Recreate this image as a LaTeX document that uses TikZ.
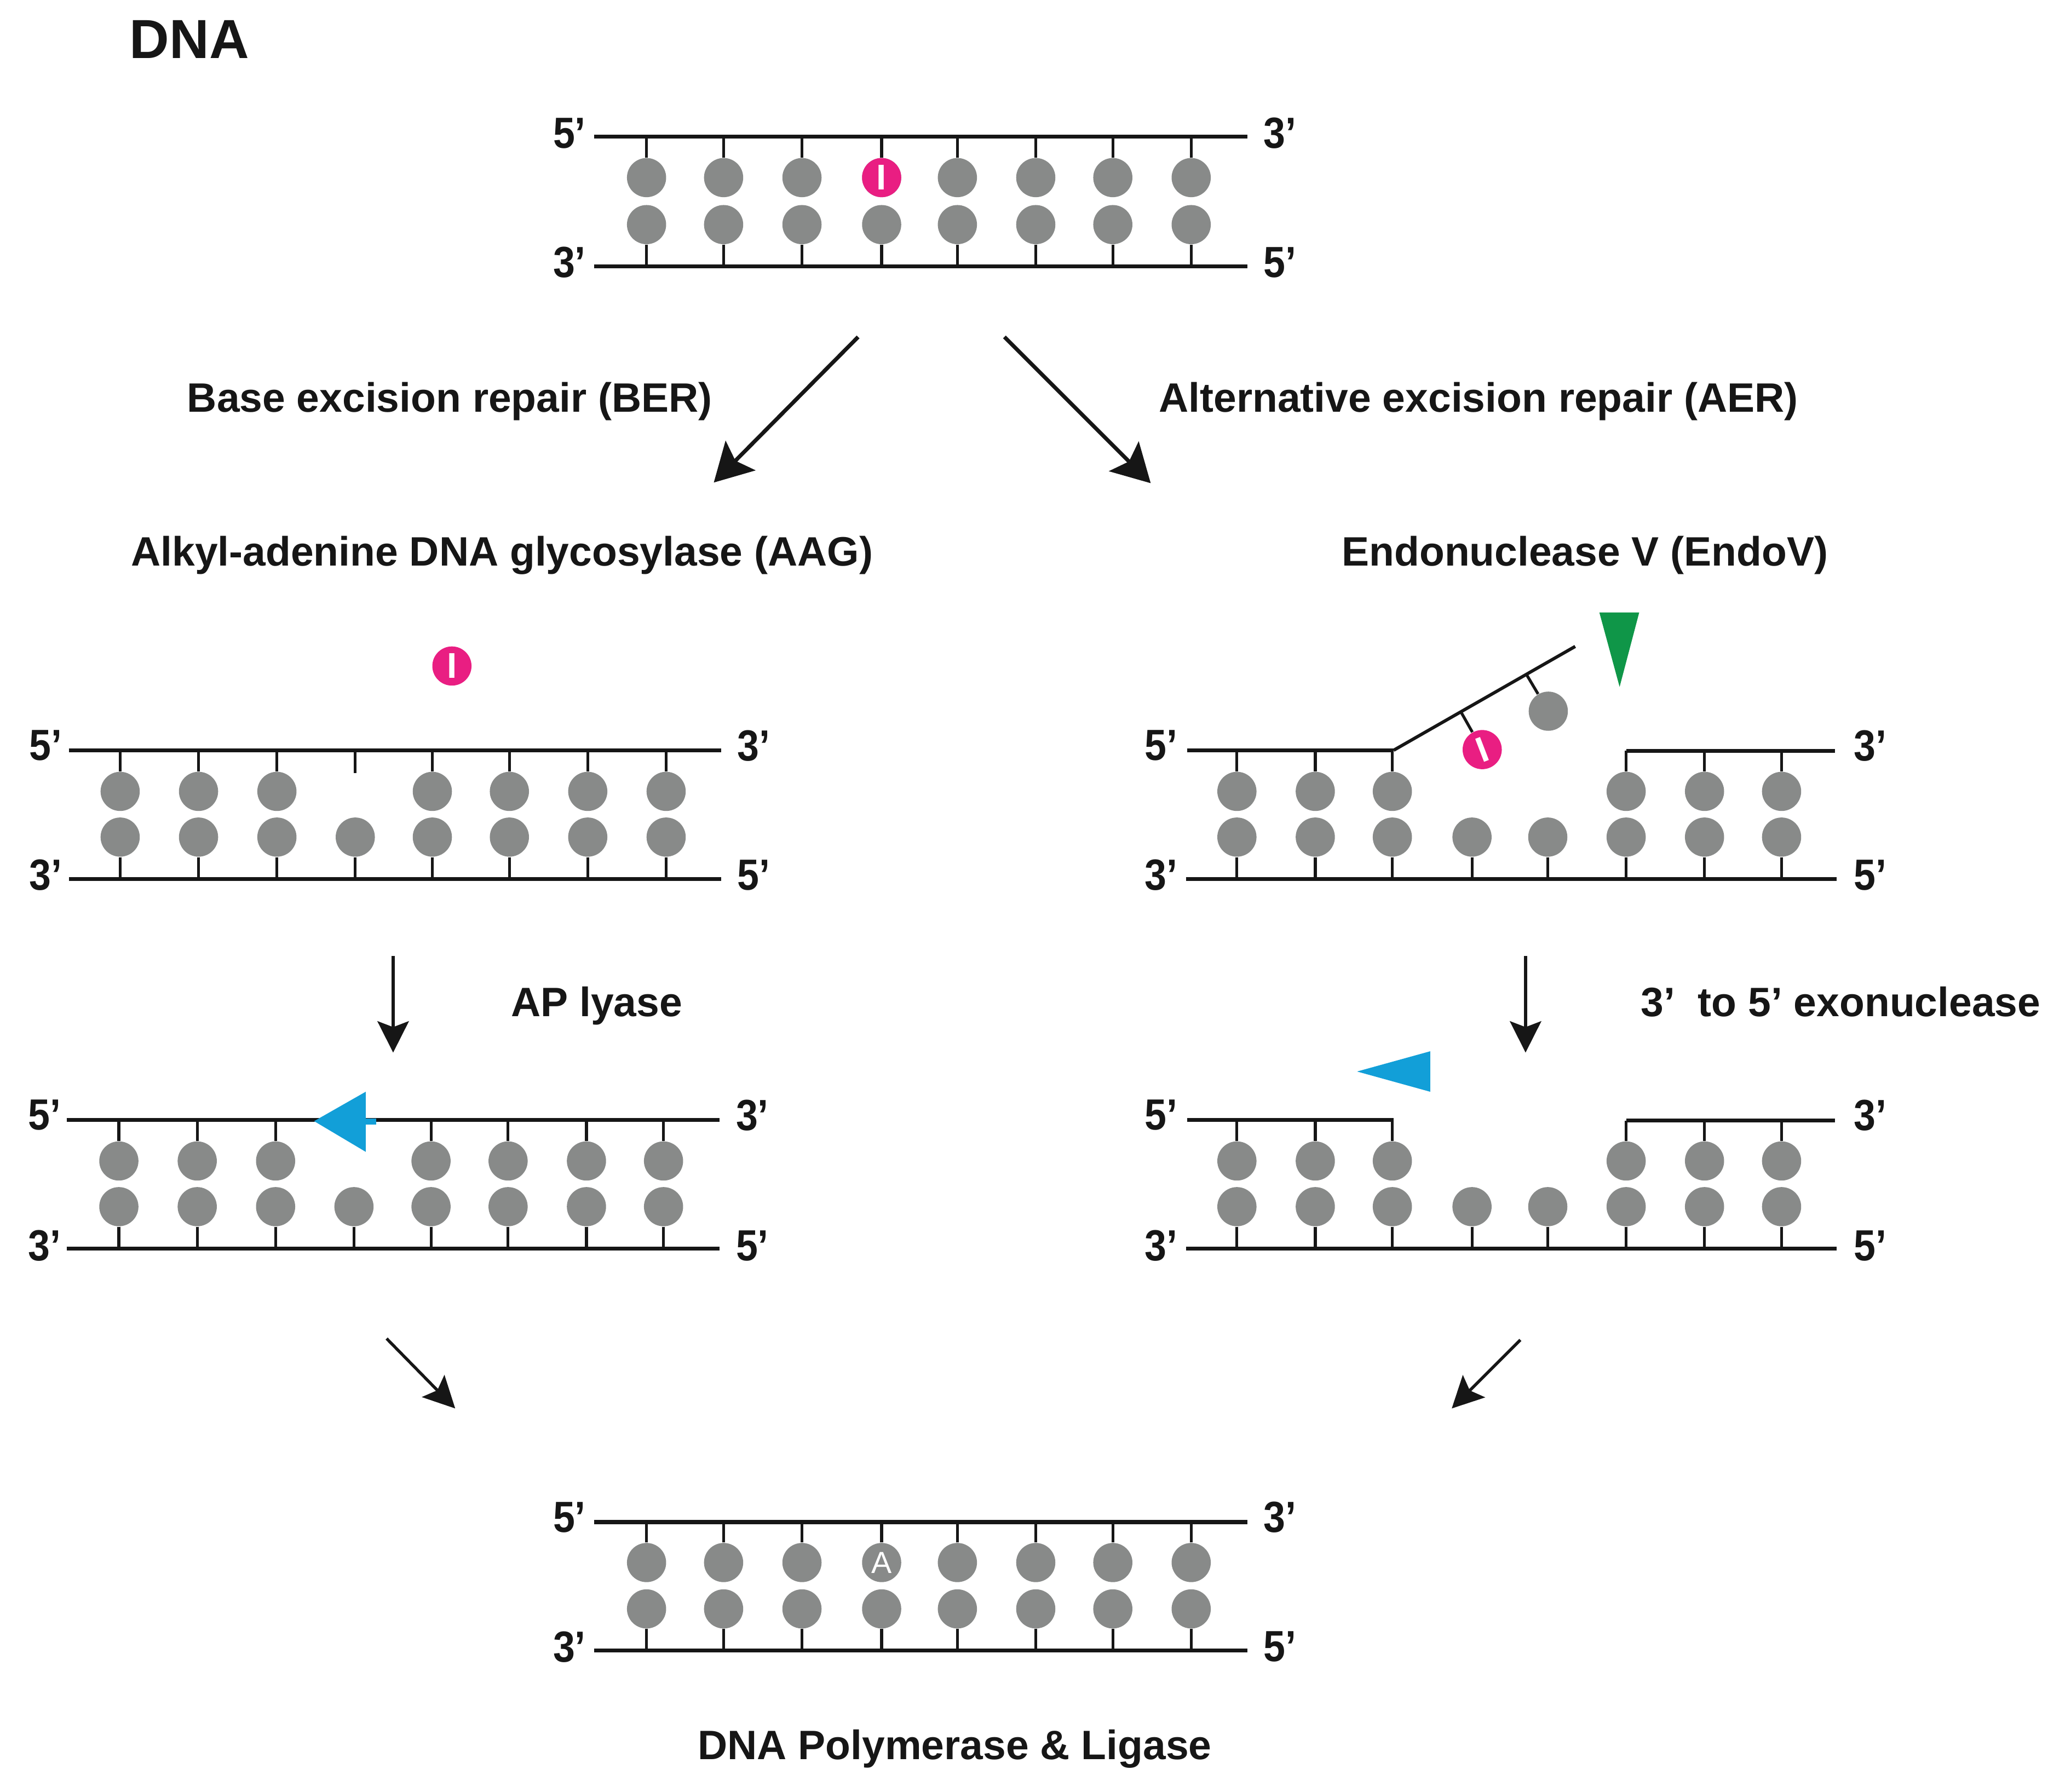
\documentclass[tikz,border=0pt]{standalone}
\usepackage{fontspec}
\setmainfont{Liberation Sans}
\newfontfamily\endfont[FakeStretch=0.9]{Liberation Sans}
\usetikzlibrary{arrows.meta}
\definecolor{basegray}{HTML}{888A89}
\definecolor{inosine}{HTML}{E91E82}
\definecolor{lyaseblue}{HTML}{129FD8}
\definecolor{endogreen}{HTML}{0F9648}
\definecolor{ink}{HTML}{161616}

\begin{document}
\begin{tikzpicture}[
    x=0.02cm,y=-0.02cm,
    base/.style={
      circle,
      fill=basegray,
      inner sep=0pt,
      minimum size=0.6cm
    },
    lesion/.style={
      base,
      fill=inosine,
      text=white,
      font=\fontsize{15.6}{16}\selectfont\bfseries
    },
    strand/.style={
      draw=ink,
      line width=1.7pt
    },
    stem/.style={
      draw=ink,
      line width=1.25pt
    },
    endlabel/.style={
      text=ink,
      font=\endfont\fontsize{19}{20}\selectfont\bfseries
    },
    title/.style={
      anchor=west,
      inner sep=0pt,
      text=ink,
      text depth=0pt,
      font=\fontsize{17.9}{18}\selectfont\bfseries
    },
    bigstep/.style={
      draw=ink,
      line width=1.7pt,
      -{Stealth[length=0.58cm,width=0.64cm,inset=0.11cm]}
    },
    smallstep/.style={
      draw=ink,
      line width=1.3pt,
      -{Stealth[length=0.48cm,width=0.48cm,inset=0.09cm]}
    }
    ]
    \useasboundingbox (0,0) rectangle (1568,1372.2);

    \node[title,font=\fontsize{24}{25}\selectfont\bfseries] (dna) at (99,30) {DNA};

    % damaged duplex
    \coordinate (a5) at (455,104.5);
    \coordinate (a3) at (955,104.5);
    \coordinate (a3b) at (455,204);
    \coordinate (a5b) at (955,204);
    \draw[strand] (a5) -- (a3);
    \draw[strand] (a3b) -- (a5b);
    \foreach \x [count=\i] in {495,554,614,675,733,793,852,912} {
      \node[base] (au\i) at (\x,136) {};
      \node[base] (al\i) at (\x,172) {};
      \draw[stem] (au\i) -- (au\i|-a5);
      \draw[stem] (al\i) -- (al\i|-a3b);
    }
    \node[lesion] (ai) at (au4) {I};
    \node[endlabel] (al1t) at (436,102) {5’};
    \node[endlabel] (al2t) at (980,102) {3’};
    \node[endlabel] (al3t) at (436,201) {3’};
    \node[endlabel] (al4t) at (980,201) {5’};

    % pathways
    \coordinate (ber0) at (657,258);
    \coordinate (ber1) at (546.5,369.5);
    \coordinate (aer0) at (769,258);
    \coordinate (aer1) at (881,370);
    \draw[bigstep] (ber0) -- (ber1);
    \draw[bigstep] (aer0) -- (aer1);
    \node[title] (bername) at (143,304) {Base excision repair (BER)};
    \node[title] (aername) at (887,304) {Alternative excision repair (AER)};
    \node[title] (aag) at (100,422) {Alkyl-adenine DNA glycosylase (AAG)};
    \node[title] (endov) at (1027,422) {Endonuclease V (EndoV)};

    % AAG cut
    \node[lesion] (bi) at (346,510) {I};
    \coordinate (b5) at (53,574.5);
    \coordinate (b3) at (552,574.5);
    \coordinate (b3b) at (53,673);
    \coordinate (b5b) at (552,673);
    \draw[strand] (b5) -- (b3);
    \draw[strand] (b3b) -- (b5b);
    \foreach \x [count=\i] in {92,152,212,272,331,390,450,510} {
      \node[base] (bl\i) at (\x,641) {};
      \draw[stem] (bl\i) -- (bl\i|-b3b);
    }
    \foreach \x [count=\i] in {92,152,212,331,390,450,510} {
      \node[base] (bu\i) at (\x,606) {};
      \draw[stem] (bu\i) -- (bu\i|-b5);
    }
    \coordinate (bgap) at (272,592);
    \draw[stem] (bgap) -- (bgap|-b5);
    \node[endlabel] (bl1t) at (35,571) {5’};
    \node[endlabel] (bl2t) at (577,571) {3’};
    \node[endlabel] (bl3t) at (35,670) {3’};
    \node[endlabel] (bl4t) at (577,670) {5’};

    % AP lyase
    \coordinate (ap0) at (301,732);
    \coordinate (ap1) at (301,806);
    \draw[smallstep] (ap0) -- (ap1);
    \node[title] (apname) at (391,767) {AP lyase};
    \coordinate (c5) at (51,857.5);
    \coordinate (c3) at (551,857.5);
    \coordinate (c3b) at (51,956);
    \coordinate (c5b) at (551,956);
    \draw[strand] (c5) -- (c3);
    \draw[strand] (c3b) -- (c5b);
    \foreach \x [count=\i] in {91,151,211,271,330,389,449,508} {
      \node[base] (cl\i) at (\x,924) {};
      \draw[stem] (cl\i) -- (cl\i|-c3b);
    }
    \foreach \x [count=\i] in {91,151,211,330,389,449,508} {
      \node[base] (cu\i) at (\x,889) {};
      \draw[stem] (cu\i) -- (cu\i|-c5);
    }
    \fill[lyaseblue] (240.5,858.5) -- (280,836) -- (280,882) -- cycle;
    \fill[lyaseblue] (279,856.5) rectangle (288,861);
    \node[endlabel] (cl1t) at (34,854) {5’};
    \node[endlabel] (cl2t) at (576,854) {3’};
    \node[endlabel] (cl3t) at (34,954) {3’};
    \node[endlabel] (cl4t) at (576,954) {5’};

    % EndoV cut
    \coordinate (d5) at (909,574.5);
    \coordinate (dk) at (1067,574.5);
    \coordinate (dflap) at (1206,495);
    \coordinate (dr) at (1245,575);
    \coordinate (d3) at (1405,575);
    \coordinate (d3b) at (908,673);
    \coordinate (d5b) at (1406,673);
    \draw[strand] (d5) -- (dk);
    \draw[strand,line width=1.4pt] (dk) -- (dflap);
    \draw[strand] (dr) -- (d3);
    \draw[strand] (d3b) -- (d5b);
    \foreach \x [count=\i] in {947,1007,1066,1127,1185,1245,1305,1364} {
      \node[base] (dl\i) at (\x,641) {};
      \draw[stem] (dl\i) -- (dl\i|-d3b);
    }
    \foreach \x [count=\i] in {947,1007,1066} {
      \node[base] (du\i) at (\x,606) {};
      \draw[stem] (du\i) -- (du\i|-d5);
    }
    \foreach \x [count=\i] in {1245,1305,1364} {
      \node[base] (dv\i) at (\x,606) {};
      \draw[stem] (dv\i) -- (dv\i|-d3);
    }
    \coordinate (dfi) at (1119,546);
    \coordinate (dfg) at (1169,517);
    \node[lesion,rotate=21] (di) at (1134.8,574) {I};
    \node[base] (dg) at (1185.4,544.6) {};
    \draw[stem] (dfi) -- (di);
    \draw[stem] (dfg) -- (dg);
    \fill[endogreen] (1224.5,469) -- (1255,469) -- (1240,526) -- cycle;
    \node[endlabel] (dl1t) at (889,571) {5’};
    \node[endlabel] (dl2t) at (1432,571) {3’};
    \node[endlabel] (dl3t) at (889,670) {3’};
    \node[endlabel] (dl4t) at (1432,670) {5’};

    % exonuclease
    \coordinate (ex0) at (1168,732);
    \coordinate (ex1) at (1168,806);
    \draw[smallstep] (ex0) -- (ex1);
    \node[title] (exname) at (1256,767) {3’\ \ to 5’ exonuclease};
    \fill[lyaseblue] (1039,820.5) -- (1095,805) -- (1095,836) -- cycle;
    \coordinate (e5) at (909,857.5);
    \coordinate (ek) at (1067,857.5);
    \coordinate (er) at (1245,858);
    \coordinate (e3) at (1405,858);
    \coordinate (e3b) at (908,956);
    \coordinate (e5b) at (1406,956);
    \draw[strand] (e5) -- (ek);
    \draw[strand] (er) -- (e3);
    \draw[strand] (e3b) -- (e5b);
    \foreach \x [count=\i] in {947,1007,1066,1127,1185,1245,1305,1364} {
      \node[base] (el\i) at (\x,924) {};
      \draw[stem] (el\i) -- (el\i|-e3b);
    }
    \foreach \x [count=\i] in {947,1007,1066} {
      \node[base] (eu\i) at (\x,889) {};
      \draw[stem] (eu\i) -- (eu\i|-e5);
    }
    \foreach \x [count=\i] in {1245,1305,1364} {
      \node[base] (ev\i) at (\x,889) {};
      \draw[stem] (ev\i) -- (ev\i|-e3);
    }
    \node[endlabel] (el1t) at (889,854) {5’};
    \node[endlabel] (el2t) at (1432,854) {3’};
    \node[endlabel] (el3t) at (889,954) {3’};
    \node[endlabel] (el4t) at (1432,954) {5’};

    % joining up
    \coordinate (jl0) at (296,1025);
    \coordinate (jl1) at (348.5,1078.5);
    \coordinate (jr0) at (1164,1026);
    \coordinate (jr1) at (1111.5,1078.5);
    \draw[smallstep] (jl0) -- (jl1);
    \draw[smallstep] (jr0) -- (jr1);

    % repaired duplex
    \coordinate (f5) at (455,1165.5);
    \coordinate (f3) at (955,1165.5);
    \coordinate (f3b) at (455,1264);
    \coordinate (f5b) at (955,1264);
    \draw[strand] (f5) -- (f3);
    \draw[strand] (f3b) -- (f5b);
    \foreach \x [count=\i] in {495,554,614,675,733,793,852,912} {
      \node[base] (fu\i) at (\x,1196.5) {};
      \node[base] (fl\i) at (\x,1232) {};
      \draw[stem] (fu\i) -- (fu\i|-f5);
      \draw[stem] (fl\i) -- (fl\i|-f3b);
    }
    \node[text=white,inner sep=0pt,font=\fontsize{13.3}{14}\selectfont] (fa) at (fu4) {A};
    \node[endlabel] (fl1t) at (436,1162) {5’};
    \node[endlabel] (fl2t) at (980,1162) {3’};
    \node[endlabel] (fl3t) at (436,1261) {3’};
    \node[endlabel] (fl4t) at (980,1261) {5’};
    \node[title] (polname) at (534,1336) {DNA Polymerase \& Ligase};
\end{tikzpicture}
\end{document}
